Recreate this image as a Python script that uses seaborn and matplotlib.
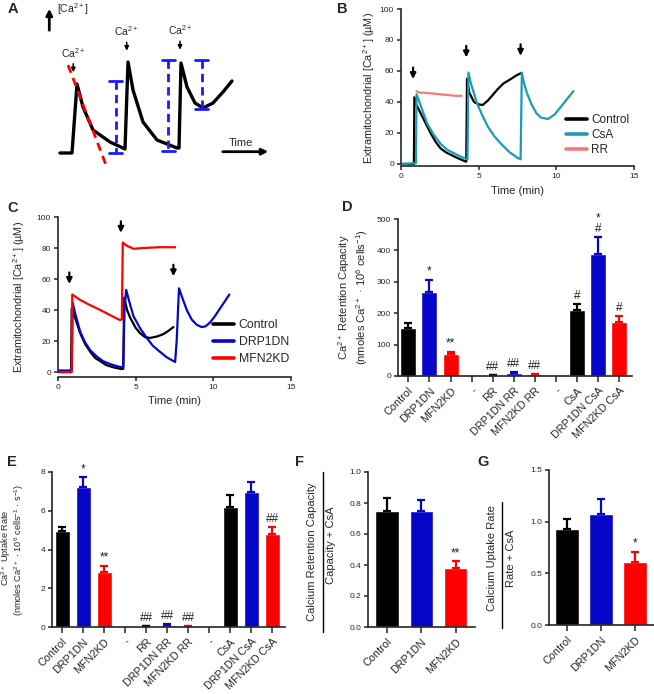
import numpy as np
import pandas as pd
import seaborn as sns
import matplotlib.pyplot as plt

# ---- data ----
# panel A schematic trace (arbitrary units, pixel-like)
a_x = [60, 72, 77, 83, 93, 110, 125, 128, 133, 143, 157, 177, 179, 181, 187, 195, 203, 213, 223, 232]
a_y = [153, 153, 84, 107, 130, 142, 149, 62, 90, 122, 140, 148, 148, 63, 87, 103, 108, 103, 92, 81]

# panel B traces (time in min, [Ca2+] in uM)
b_ctrl_t = [0, 0.83, 0.86, 1.0, 1.25, 1.6, 1.9, 2.25, 2.55, 2.9, 3.2, 3.6, 4.06, 4.2, 4.25, 4.4, 4.7, 5.0, 5.25, 5.6, 6.2, 6.6, 7.1, 7.4, 7.7]
b_ctrl_y = [0, 0, 43, 38, 33, 26, 20, 14, 10, 7.5, 6, 4, 2, 1.5, 55, 46, 40, 38.5, 38, 41, 48, 52, 55, 57, 58.5]
b_csa_t = [0, 0.96, 1.0, 1.15, 1.4, 1.69, 2.1, 2.55, 3.0, 3.4, 3.9, 4.28, 4.34, 4.5, 4.9, 5.25, 5.6, 6.0, 6.44,
           7.0, 7.5, 7.7, 7.78, 7.9, 8.1, 8.38, 8.7, 9.0, 9.46, 9.9, 10.3, 10.7, 11.1]
b_csa_y = [0, 0.5, 45, 41, 34, 26, 19, 13, 9, 7, 4.5, 3, 59, 52, 39, 31, 24, 18, 13,
           7.5, 4, 3, 59, 53, 46, 39, 33, 30, 29, 32, 37, 42, 47]
b_rr_t = [1.0, 1.2, 1.5, 2.0, 2.5, 3.0, 3.5, 3.9]
b_rr_y = [47, 46, 46, 45.5, 45, 44.5, 44, 44]
b_arrows_t = [0.78, 4.2, 7.7]
b_arrows_y = [53, 67, 68]

# panel C traces
c_ctrl_t = [0, 0.84, 0.88, 1.1, 1.43, 1.75, 2.08, 2.4, 2.72, 3.1, 3.58, 4.05, 4.2, 4.26, 4.45, 4.65, 5.0, 5.29,
            5.6, 5.93, 6.4, 6.79, 7.1, 7.43]
c_ctrl_y = [0, 0, 41, 35, 25, 18, 13, 9, 7, 4.5, 3, 2, 2, 48, 40, 35, 28.5, 25, 22.5, 22, 23, 24.5, 26.5, 29]
c_drp_t = [0, 0.88, 0.95, 1.1, 1.43, 1.75, 2.08, 2.5, 2.9, 3.4, 3.9, 4.2, 4.28, 4.39, 4.6, 4.86, 5.3, 5.72, 6.1,
           6.57, 7.0, 7.54, 7.64, 7.79, 8.0, 8.29, 8.6, 8.93, 9.25, 9.5, 9.79, 10.1, 10.43, 10.7, 11.03]
c_drp_y = [1, 1, 44.5, 38, 26, 19, 14, 10, 7, 5, 3.5, 3, 40, 53, 45, 36, 28, 22, 17,
           13, 9.5, 6.5, 20, 54, 48, 40, 34, 30.5, 29, 29.5, 32, 36, 41, 45, 50]
c_mfn_t = [0, 0.88, 0.92, 1.43, 2.0, 2.72, 3.4, 4.0, 4.11, 4.17, 4.43, 4.86, 5.5, 6.5, 7.54]
c_mfn_y = [0, 0, 50, 46.5, 43.5, 40, 36.5, 33.5, 34, 83.5, 81.5, 79.5, 80, 80.5, 80.5]
c_arrows_t = [0.73, 4.05, 7.43]
c_arrows_y = [55, 88, 60]

# bar panels D and E
groups = ["Control", "DRP1DN", "MFN2KD", "-", "RR", "DRP1DN RR", "MFN2KD RR", "-", "CsA", "DRP1DN CsA", "MFN2KD CsA"]
d_vals = [152, 266, 69, 0, 3, 10, 5, 0, 210, 388, 171]
d_errs = [16, 40, 8, 0, 1, 3, 2, 0, 18, 56, 21]
d_sig = ["", "*", "**", "", "##", "##", "##", "", "#", "*\n#", "#"]
e_vals = [4.97, 7.24, 2.82, 0, 0.04, 0.1, 0.04, 0, 6.2, 6.97, 4.78]
e_errs = [0.18, 0.48, 0.34, 0, 0.02, 0.03, 0.02, 0, 0.6, 0.53, 0.4]
e_sig = ["", "*", "**", "", "##", "##", "##", "", "", "", "##"]

# panels F and G
fg_groups = ["Control", "DRP1DN", "MFN2KD"]
f_vals = [0.75, 0.75, 0.383]
f_errs = [0.085, 0.07, 0.04]
f_sig = ["", "", "**"]
g_vals = [0.93, 1.074, 0.607]
g_errs = [0.1, 0.15, 0.1]
g_sig = ["", "", "*"]

BLACK, BLUE, RED = "#000000", "#0606c8", "#fe0000"
TEAL, PINK = "#1d9bb3", "#f47a7a"
bar_colors = [BLACK, BLUE, RED, BLACK, BLACK, BLUE, RED, BLACK, BLACK, BLUE, RED]

sns.set_style("ticks")
plt.rcParams['font.family'] = ['Liberation Sans', 'DejaVu Sans']
plt.rcParams['mathtext.default'] = 'regular'
plt.rcParams['axes.linewidth'] = 1.2

W, H = 654, 694
fig = plt.figure(figsize=(W / 100, H / 100), dpi=100)


def add_ax(left, top, right, bottom):
    return fig.add_axes([left / W, 1 - bottom / H, (right - left) / W, (bottom - top) / H])


def style_ax(ax, ysize=6):
    sns.despine(ax=ax)
    ax.tick_params(direction='out', length=3, width=1.1, labelsize=ysize, pad=2)


# ---- panel A: schematic ----
ax = add_ax(0, 0, 330, 180)
ax.set_xlim(0, 330)
ax.set_ylim(180, 0)
ax.axis('off')
ax.plot(a_x, a_y, color='black', lw=2.4, solid_joinstyle='round')
ax.plot([68, 106], [65, 165], color='red', lw=2, ls=(0, (3, 2)))
for bx, top, bot, hw in [(115.7, 81, 153, 6.5), (168.3, 60, 151, 6.3), (201.7, 60, 109, 6.7)]:
    ax.plot([bx, bx], [top, bot], color='#1a1aff', lw=2, ls=(0, (3, 1.8)))
    ax.plot([bx - hw, bx + hw], [top, top], color='#1a1aff', lw=2)
    ax.plot([bx - hw, bx + hw], [bot, bot], color='#1a1aff', lw=2)
for lx, ly in [(73.3, 53), (126.7, 31.5), (180, 30.5)]:
    ax.text(lx, ly, "Ca$^{2+}$", fontsize=7.5, ha='center', va='center')
    ax.annotate("", xy=(lx, ly + 22), xytext=(lx, ly + 8),
                arrowprops=dict(arrowstyle='-|>', lw=1.1, color='black', mutation_scale=6))
ax.annotate("", xy=(49.3, 6), xytext=(49.3, 33),
            arrowprops=dict(arrowstyle='-|>', lw=2, color='black', mutation_scale=9))
ax.text(57, 9, "[Ca$^{2+}$]", fontsize=7.5, ha='left', va='center')
ax.annotate("", xy=(271, 151.7), xytext=(220, 151.7),
            arrowprops=dict(arrowstyle='-|>', lw=2, color='black', mutation_scale=9))
ax.text(241, 143, "Time", fontsize=8, ha='center', va='center')


def trace_panel(ax, series, palette, arrows_t, arrows_y, ylow):
    rows = []
    for name, t, y in series:
        rows += [(name, ti, yi) for ti, yi in zip(t, y)]
    df = pd.DataFrame(rows, columns=['cond', 'time', 'ca'])
    order = [s[0] for s in series]
    sns.lineplot(data=df, x='time', y='ca', hue='cond', hue_order=order, palette=palette,
                 estimator=None, sort=False, lw=1.6, ax=ax)
    ax.set_xlim(0, 15)
    ax.set_ylim(ylow, 100)
    ax.set_xticks([0, 5, 10, 15])
    ax.set_yticks([0, 20, 40, 60, 80, 100])
    ax.spines['left'].set_bounds(0, 100)
    for t, y in zip(arrows_t, arrows_y):
        ax.annotate("", xy=(t, y), xytext=(t, y + 11),
                    arrowprops=dict(arrowstyle='-|>', lw=1.6, color='black', mutation_scale=8))
    ax.set_xlabel("Time (min)", fontsize=8, labelpad=4)
    ax.set_ylabel("Extramitochondrial [Ca$^{2+}$] (µM)", fontsize=7.8)
    style_ax(ax)


# ---- panel B ----
ax = add_ax(401, 9, 634, 166)
trace_panel(ax, [("Control", b_ctrl_t, b_ctrl_y), ("CsA", b_csa_t, b_csa_y), ("RR", b_rr_t, b_rr_y)],
            {"Control": BLACK, "CsA": TEAL, "RR": PINK}, b_arrows_t, b_arrows_y, -1.3)
ax.yaxis.set_label_coords(-0.105, 0.5)
leg = ax.legend(loc='upper left', bbox_to_anchor=(0.69, 0.36), frameon=False, fontsize=8.5,
                handlelength=1.7, handletextpad=0.4, labelspacing=0.25, borderaxespad=0)
for h in leg.get_lines():
    h.set_linewidth(2.6)

# ---- panel C ----
ax = add_ax(58, 217, 291, 377)
trace_panel(ax, [("Control", c_ctrl_t, c_ctrl_y), ("DRP1DN", c_drp_t, c_drp_y), ("MFN2KD", c_mfn_t, c_mfn_y)],
            {"Control": BLACK, "DRP1DN": BLUE, "MFN2KD": RED}, c_arrows_t, c_arrows_y, -3.2)
ax.yaxis.set_label_coords(-0.135, 0.5)
leg = ax.legend(loc='upper left', bbox_to_anchor=(0.645, 0.39), frameon=False, fontsize=8.8,
                handlelength=1.7, handletextpad=0.4, labelspacing=0.4, borderaxespad=0)
for h in leg.get_lines():
    h.set_linewidth(2.6)


def bar_panel(ax, labels, vals, errs, sig, colors, width, ylim, yticks, xlim, capsize=3, sigsize=8.5):
    keys = ["k%d" % i for i in range(len(labels))]
    df = pd.DataFrame({'key': keys, 'val': vals})
    sns.barplot(data=df, x='key', y='val', hue='key', order=keys, hue_order=keys,
                palette=dict(zip(keys, colors)), legend=False, width=width,
                saturation=1, errorbar=None, ax=ax)
    for i, (v, e, c) in enumerate(zip(vals, errs, colors)):
        if v > 0:
            ax.errorbar(i, v, yerr=[[0], [e]], fmt='none', ecolor=c, elinewidth=1.6,
                        capsize=capsize, capthick=1.6, zorder=1)
        if sig[i]:
            ax.annotate(sig[i], (i, v + e), xytext=(0, 1.5), textcoords='offset points',
                        ha='center', va='bottom', fontsize=sigsize, linespacing=0.8, color='#222222')
    ax.set_xlim(*xlim)
    ax.set_ylim(*ylim)
    ax.set_yticks(yticks)
    ax.set_xticks(range(len(labels)))
    style_ax(ax)
    ax.set_xticklabels(labels, rotation=45, ha='right', rotation_mode='anchor', fontsize=7.8)
    ax.set_xlabel("")
    ax.set_ylabel("")
    ax.tick_params(axis='x', length=4, pad=3)


# ---- panel D ----
ax = add_ax(398, 219, 632, 376)
bar_panel(ax, groups, d_vals, d_errs, d_sig, bar_colors, 0.76, (0, 500), range(0, 501, 100), (-0.49, 10.6))
ax.set_ylabel("Ca$^{2+}$ Retention Capacity\n(nmoles Ca$^{2+}$ · 10$^{6}$ cells$^{-1}$)", fontsize=8,
              linespacing=1.15)
ax.yaxis.set_label_coords(-0.12, 0.5)

# ---- panel E ----
ax = add_ax(52, 472, 285, 627)
bar_panel(ax, groups, e_vals, e_errs, e_sig, bar_colors, 0.7, (0, 8), [0, 2, 4, 6, 8], (-0.49, 10.6))
fig.text(6.5 / W, 1 - 548 / H, "Ca$^{2+}$ Uptake Rate", rotation=90, fontsize=6.6, ha='center', va='center')
fig.text(19.5 / W, 1 - 550 / H, "(nmoles Ca$^{2+}$ · 10$^{6}$ cells$^{-1}$ · s$^{-1}$)", rotation=90,
         fontsize=6.6, ha='center', va='center')

# ---- panel F ----
ax = add_ax(368, 472, 475, 627)
bar_panel(ax, fg_groups, f_vals, f_errs, f_sig, [BLACK, BLUE, RED], 0.68, (0, 1.0),
          [0, 0.2, 0.4, 0.6, 0.8, 1.0], (-0.55, 2.56))
ax.set_yticklabels(["0.0", "0.2", "0.4", "0.6", "0.8", "1.0"])
fig.text(312 / W, 1 - 552 / H, "Calcium Retention Capacity", rotation=90, fontsize=8, ha='center', va='center')
fig.text(331 / W, 1 - 545 / H, "Capacity + CsA", rotation=90, fontsize=8, ha='center', va='center')
fig.add_artist(plt.Line2D([323 / W, 323 / W], [1 - 472 / H, 1 - 632 / H], color='black', lw=1))

# ---- panel G ----
ax = add_ax(549, 470, 654, 625)
bar_panel(ax, fg_groups, g_vals, g_errs, g_sig, [BLACK, BLUE, RED], 0.68, (0, 1.5),
          [0, 0.5, 1.0, 1.5], (-0.53, 2.56))
ax.set_yticklabels(["0.0", "0.5", "1.0", "1.5"])
fig.text(492 / W, 1 - 558 / H, "Calcium Uptake Rate", rotation=90, fontsize=8, ha='center', va='center')
fig.text(511 / W, 1 - 558 / H, "Rate + CsA", rotation=90, fontsize=8, ha='center', va='center')
fig.add_artist(plt.Line2D([502 / W, 502 / W], [1 - 502 / H, 1 - 628 / H], color='black', lw=1))

# panel letters
for letter, lx, ly in [("A", 13, 9), ("B", 342, 9), ("C", 13, 208), ("D", 347, 207),
                       ("E", 12, 462), ("F", 299, 462), ("G", 483, 462)]:
    fig.text(lx / W, 1 - ly / H, letter, fontsize=10.5, fontweight='bold', ha='center', va='center')

fig.savefig("out.png", dpi=100)
